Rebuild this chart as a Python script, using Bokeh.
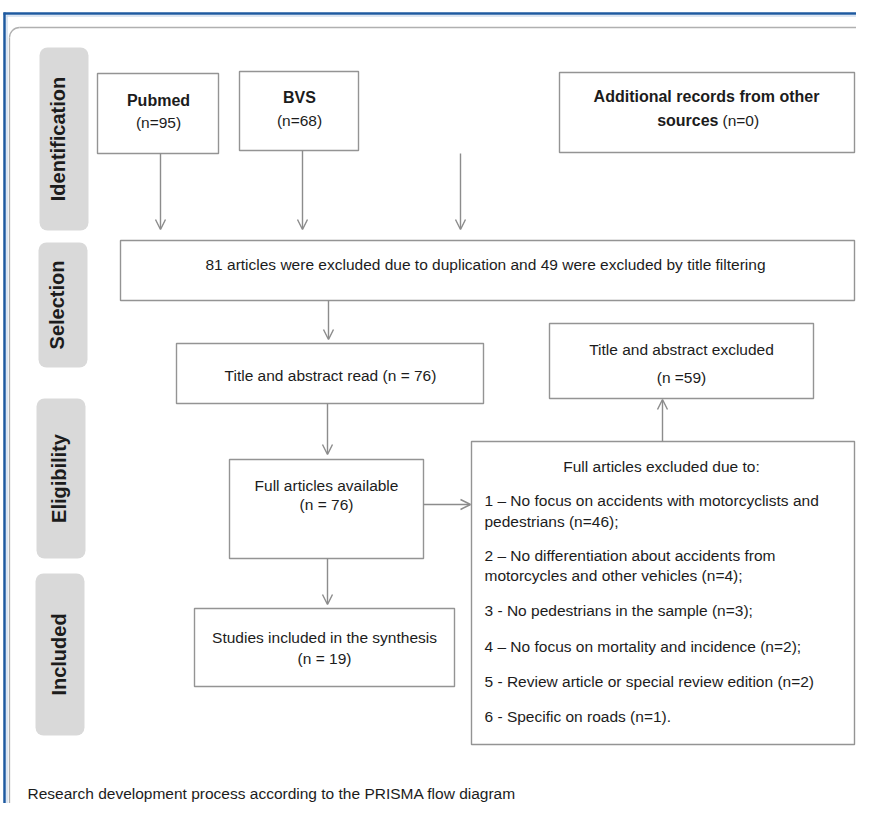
import math
from bokeh.plotting import figure
from bokeh.models import Range1d, BoxAnnotation, Arrow, OpenHead
from bokeh.core.properties import value
from bokeh.embed import file_html
from bokeh.resources import INLINE

# ---------------- data ----------------
stage_labels = ["Identification", "Selection", "Eligibility", "Included"]
source_names = ["Pubmed", "BVS"]
source_counts = [95, 68]
other_sources_count = 0
duplicates_excluded = 81
title_filter_excluded = 49
title_abstract_read = 76
title_abstract_excluded = 59
full_available = 76
studies_included = 19
exclusion_lines = [
    "1 – No focus on accidents with motorcyclists and",
    "pedestrians (n=46);",
    "2 – No differentiation about accidents from",
    "motorcycles and other vehicles (n=4);",
    "3 - No pedestrians in the sample (n=3);",
    "4 – No focus on mortality and incidence (n=2);",
    "5 - Review article or special review edition (n=2)",
    "6 - Specific on roads (n=1).",
]
caption = "Research development process according to the PRISMA flow diagram"

# ---------------- layout (reference pixel coordinates) ----------------
H = 819
def fy(Y):
    return H - Y

FONT = "Liberation Sans"
TXT = "#1c1c1c"
BOX = "#949494"
ARR = "#8c8c8c"

p = figure(width=856, height=803, output_backend="svg", toolbar_location=None,
           x_range=Range1d(5, 861), y_range=Range1d(fy(803), fy(0)),
           x_axis_type=None, y_axis_type=None, min_border=0)
p.grid.visible = False
p.outline_line_color = None
p.background_fill_color = "white"

# outer blue frame
p.line([9, 9], [fy(12), fy(830)], line_color="#1e5aa0", line_width=2.5)
p.line([8, 880], [fy(13), fy(13)], line_color="#1e5aa0", line_width=2.5)
p.line([11.5, 11.5], [fy(15), fy(830)], line_color="#b9cde6", line_width=1)
p.line([11, 880], [fy(15.5), fy(15.5)], line_color="#b9cde6", line_width=1)

# inner rounded frame (top and left edges with rounded corner)
R = 10
FL, FT = 14, 27
p.line([FL + R, 880], [fy(FT), fy(FT)], line_color="#b0b0b0", line_width=1.3)
p.line([FL, FL], [fy(FT + R), fy(830)], line_color="#b0b0b0", line_width=1.3)
p.arc(x=[FL + R], y=[fy(FT + R)], radius=R, start_angle=math.pi / 2,
      end_angle=math.pi, line_color="#b0b0b0", line_width=1.3)

# stage label panels
stage_left = [44, 43, 41, 40]
stage_right = [93, 92, 90, 89]
stage_top = [47, 242, 398, 573]
stage_bottom = [230, 367, 558, 735]
for l, r, t, b in zip(stage_left, stage_right, stage_top, stage_bottom):
    p.add_layout(BoxAnnotation(left=l, right=r, top=fy(t), bottom=fy(b),
                               fill_color="#d9d9d9", fill_alpha=1.0,
                               line_color=None, border_radius=8,
                               level="underlay"))
stage_x = [62, 61, 63, 63]
stage_y = [fy((t + b) / 2) for t, b in zip(stage_top, stage_bottom)]
p.text(x=stage_x, y=stage_y, text=stage_labels, angle=math.pi / 2,
       text_font=value(FONT), text_font_style="bold", text_font_size="20px",
       text_color=TXT, text_align="center", text_baseline="middle")

# flow boxes
box_left = [102, 244, 564, 125, 181, 554, 234, 476, 199]
box_right = [223, 363, 859, 859, 488, 818, 428, 859, 459]
box_top = [73, 71, 72, 240, 343, 323, 459, 441, 608]
box_bottom = [153, 150, 152, 300, 403, 398, 558, 744, 686]
p.quad(left=box_left, right=box_right, top=[fy(v) for v in box_top],
       bottom=[fy(v) for v in box_bottom], fill_color="white",
       line_color=BOX, line_width=1.4)

# arrows
arrow_x0 = [165, 307, 465, 333, 332, 332, 428, 667]
arrow_y0 = [153, 150, 153, 300, 403, 558, 504, 441]
arrow_x1 = [165, 307, 465, 333, 332, 332, 475, 667]
arrow_y1 = [229, 229, 229, 339, 454, 604, 504, 399]
for x0, y0, x1, y1 in zip(arrow_x0, arrow_y0, arrow_x1, arrow_y1):
    p.add_layout(Arrow(x_start=x0, y_start=fy(y0), x_end=x1, y_end=fy(y1),
                       line_color=ARR, line_width=1.4,
                       end=OpenHead(size=10, line_color=ARR, line_width=1.4)))

def txt(xs, ys, texts, style="normal", size="15.5px", align="center"):
    p.text(x=xs, y=[fy(v) for v in ys], text=texts, text_font=value(FONT),
           text_font_style=style, text_font_size=size, text_color=TXT,
           text_align=align, text_baseline="middle")

# identification boxes
txt([163, 304], [100, 97], source_names, style="bold", size="16px")
txt([163, 304], [122, 120], ["(n=%d)" % c for c in source_counts])
txt([711], [96], ["Additional records from other"], style="bold", size="16px")
txt([723], [120], ["sources"], style="bold", size="16px", align="right")
txt([727], [120], ["(n=%d)" % other_sources_count], align="left")

# selection
txt([490], [264], ["%d articles were excluded due to duplication and %d were excluded by title filtering"
                   % (duplicates_excluded, title_filter_excluded)])
txt([335], [375], ["Title and abstract read (n = %d)" % title_abstract_read])
txt([686, 686], [349, 377], ["Title and abstract excluded", "(n =%d)" % title_abstract_excluded])

# eligibility
txt([331, 331], [485, 504], ["Full articles available", "(n = %d)" % full_available])
txt([666], [466], ["Full articles excluded due to:"])
excl_y = [500, 521, 555, 575, 610, 646, 681, 716]
txt([489] * len(exclusion_lines), excl_y, exclusion_lines, align="left")

# included
txt([329, 329], [637, 658], ["Studies included in the synthesis", "(n = %d)" % studies_included])

# caption
txt([32], [793], [caption], align="left")

open("out.html", "w").write(file_html(p, INLINE))
